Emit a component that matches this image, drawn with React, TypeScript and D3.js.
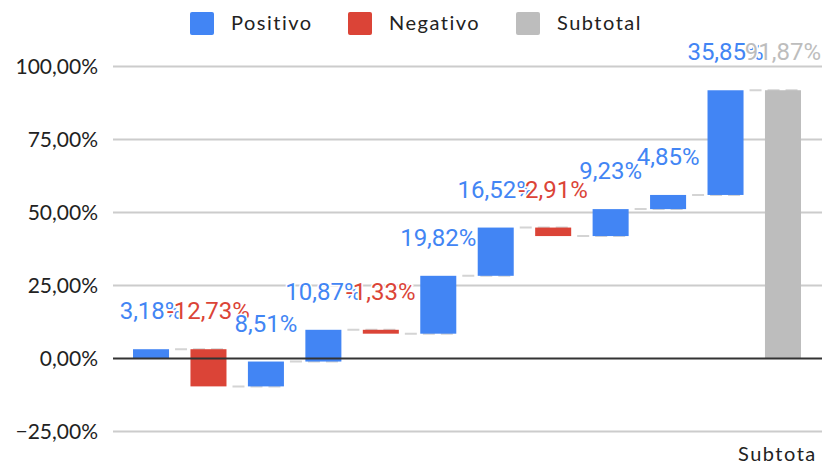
import React, { useEffect, useRef } from "react";
import * as d3 from "d3";

const categories = ["a1", "a2", "a3", "a4", "a5", "a6", "a7", "a8", "a9", "a10", "a11", "Subtotal"];
const changes = [3.18, -12.73, 8.51, 10.87, -1.33, 19.82, 16.52, -2.91, 9.23, 4.85, 35.85];
const subtotalValue = 91.87;
const valueLabels = ["3,18%", "-12,73%", "8,51%", "10,87%", "-1,33%", "19,82%", "16,52%", "-2,91%", "9,23%", "4,85%", "35,85%", "91,87%"];
const yTicks = [-25, 0, 25, 50, 75, 100];
const legendItems = ["Positivo", "Negativo", "Subtotal"];

const BLUE = "#4285f4";
const RED = "#db4437";
const GRAY = "#bdbdbd";

export default function App() {
  const ref = useRef<SVGSVGElement>(null);

  useEffect(() => {
    const svg = d3.select(ref.current);
    svg.selectAll("*").remove();

    const width = 823, height = 467;
    const left = 113, right = 822;

    const y = d3.scaleLinear().domain([0, 100]).range([358.5, 66.5]);
    const x = d3.scaleBand<string>()
      .domain(categories)
      .range([122.3, 811.7])
      .paddingInner(0.373)
      .paddingOuter(0.1865);

    // build waterfall steps
    let run = 0;
    const steps = changes.map((v, i) => {
      const start = run;
      run += v;
      return { cat: categories[i], start, end: run, v, type: v >= 0 ? "pos" : "neg" };
    });
    steps.push({ cat: categories[11], start: 0, end: subtotalValue, v: subtotalValue, type: "sub" });

    // gridlines
    svg.append("g")
      .selectAll("line")
      .data(yTicks.filter(t => t !== 0))
      .enter().append("line")
      .attr("x1", left).attr("x2", right)
      .attr("y1", d => y(d)).attr("y2", d => y(d))
      .attr("stroke", "#cccccc").attr("stroke-width", 2);

    svg.append("g")
      .selectAll("text")
      .data(yTicks)
      .enter().append("text")
      .attr("x", 98)
      .attr("y", d => y(d))
      .attr("dy", "0.35em")
      .attr("text-anchor", "end")
      .style("font-family", "Lato, sans-serif")
      .style("font-size", "21px")
      .attr("fill", "#222")
      .text(d => d3.format(".2f")(d).replace(".", ",") + "%");

    // connectors
    const bw = x.bandwidth();
    svg.append("g")
      .selectAll("line")
      .data(steps.slice(0, -1))
      .enter().append("line")
      .attr("x1", (d) => (x(d.cat) as number) + bw + 6)
      .attr("x2", (d, i) => (x(steps[i + 1].cat) as number) + bw)
      .attr("y1", d => y(d.end)).attr("y2", d => y(d.end))
      .attr("stroke", "#d4d4d4").attr("stroke-width", 2)
      .attr("stroke-dasharray", "12,6");

    // bars
    const colorOf = (t: string) => (t === "pos" ? BLUE : t === "neg" ? RED : GRAY);
    svg.append("g")
      .selectAll("rect")
      .data(steps)
      .enter().append("rect")
      .attr("x", d => x(d.cat) as number)
      .attr("width", bw)
      .attr("y", d => y(Math.max(d.start, d.end)))
      .attr("height", d => Math.abs(y(d.start) - y(d.end)))
      .attr("fill", d => colorOf(d.type));

    // zero line
    svg.append("line")
      .attr("x1", left).attr("x2", right)
      .attr("y1", y(0)).attr("y2", y(0))
      .attr("stroke", "#333").attr("stroke-width", 2);

    // value labels
    svg.append("g")
      .selectAll("text")
      .data(steps)
      .enter().append("text")
      .attr("x", d => (x(d.cat) as number) + bw / 2)
      .attr("y", d => y(Math.max(d.start, d.end)) - 30)
      .attr("text-anchor", "middle")
      .style("font-family", "Roboto, sans-serif")
      .style("font-size", "24px")
      .style("paint-order", "stroke")
      .attr("stroke", "#fff").attr("stroke-width", 3)
      .attr("fill", d => colorOf(d.type))
      .text((d, i) => valueLabels[i]);

    // category label (only the subtotal is shown, cut at the edge)
    svg.append("text")
      .attr("x", 738).attr("y", 461)
      .style("font-family", "Lato, sans-serif")
      .style("font-size", "20px")
      .style("letter-spacing", "1.5px")
      .attr("fill", "#222")
      .text("Subtota");

    // legend
    const legendX = [190, 348, 516];
    const colors = [BLUE, RED, GRAY];
    const lg = svg.append("g");
    legendItems.forEach((name, i) => {
      lg.append("rect")
        .attr("x", legendX[i]).attr("y", 12)
        .attr("width", 24).attr("height", 23)
        .attr("rx", 2)
        .attr("fill", colors[i]);
      lg.append("text")
        .attr("x", legendX[i] + 41).attr("y", 30)
        .style("font-family", "Lato, sans-serif")
        .style("font-size", "20px")
        .style("letter-spacing", "1.5px")
        .attr("fill", "#222")
        .text(name);
    });

    svg.attr("width", width).attr("height", height);
  }, []);

  return (
    <svg ref={ref} width={823} height={467}
      style={{ position: "absolute", left: 0, top: 0, background: "#fff" }} />
  );
}
